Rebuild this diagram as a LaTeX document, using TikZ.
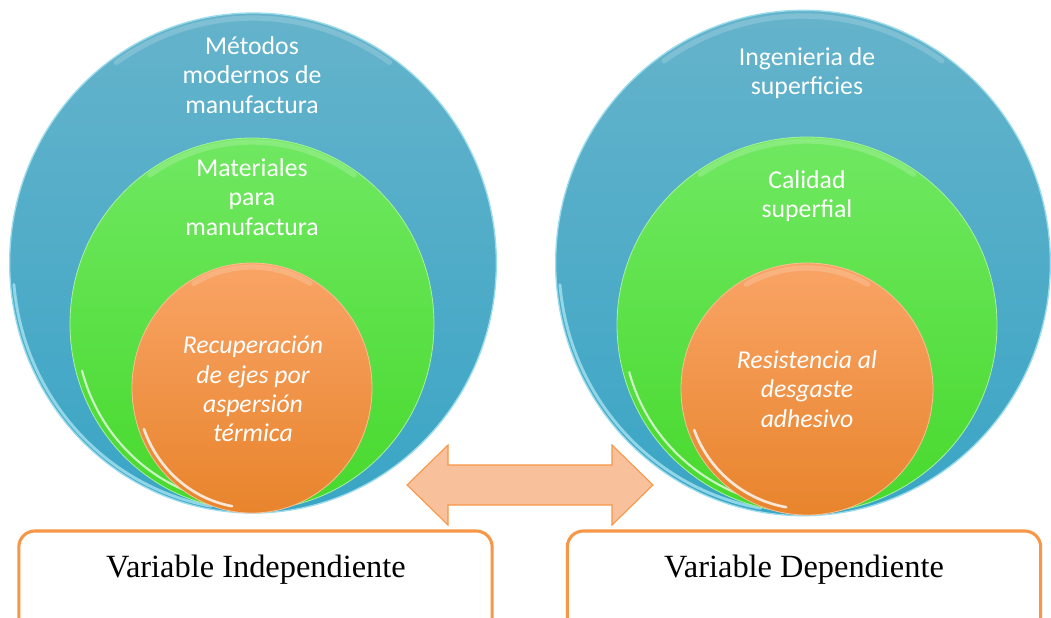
\documentclass[tikz,border=0pt]{standalone}
\usepackage{fontspec}
\setmainfont{Liberation Serif}
\newfontfamily\calfont{Carlito}
\usetikzlibrary{shapes.geometric}
\definecolor{bluetop}{HTML}{65B3CB}
\definecolor{bluebot}{HTML}{3AA5C5}
\definecolor{bluerim}{HTML}{9ADCEC}
\definecolor{greentop}{HTML}{70E862}
\definecolor{greenbot}{HTML}{47D92C}
\definecolor{orangetop}{HTML}{F9A466}
\definecolor{orangebot}{HTML}{E8842C}
\definecolor{boxline}{HTML}{F79646}
\definecolor{arrfill}{HTML}{F9C09C}
\tikzset{
  ringbase/.style={ellipse, inner sep=0pt, outer sep=0pt},
  bluering/.style={ringbase, top color=bluetop, bottom color=bluebot, draw=bluerim, line width=1pt},
  greenring/.style={ringbase, top color=greentop, bottom color=greenbot, draw=greentop!60!white, line width=0.6pt},
  orangering/.style={ringbase, top color=orangetop, bottom color=orangebot, draw=orangetop!70!white, line width=0.6pt},
  ringtext/.style={text=white, align=center, font=\calfont\fontsize{19.3}{22}\selectfont},
  ringitalic/.style={ringtext, font=\calfont\itshape\fontsize{19.3}{22}\selectfont},
  varbox/.style={draw=boxline, line width=2.3pt, rounded corners=12pt, fill=white, inner sep=0pt},
  varlabel/.style={text=black, font=\fontsize{24.3}{27}\selectfont, inner sep=0pt},
  gloss/.style={white, line width=1.6pt, opacity=0.7, line cap=round},
  topgloss/.style={white, line width=4pt, opacity=0.18, line cap=round},
  arrowshape/.style={fill=arrfill, draw=boxline, line width=0.8pt, line join=miter}
}
\begin{document}
\begin{tikzpicture}[x=0.75pt,y=-0.75pt]
\clip (0,0) rectangle (1051,618);
\fill[white] (0,0) rectangle (1051,618);

% left nested circles
\node[bluering, minimum width=365pt, minimum height=375pt] (lb) at (253,263) {};
\draw[gloss, bluerim, opacity=0.9, line width=2.2pt] (253,263) ++(100:240 and 247) arc[start angle=100, end angle=175, x radius=240, y radius=247];
\draw[topgloss] (253,263) ++(235:238 and 245) arc[start angle=235, end angle=305, x radius=238, y radius=245];
\node[greenring, minimum width=273pt, minimum height=279pt] (lg) at (252,324) {};
\draw[gloss] (252,324) ++(95:176 and 180) arc[start angle=95, end angle=165, x radius=176, y radius=180];
\draw[topgloss] (252,324) ++(235:178 and 182) arc[start angle=235, end angle=305, x radius=178, y radius=182];
\node[orangering, minimum width=180pt, minimum height=187.5pt] (lo) at (252,388) {};
\draw[gloss, line width=2pt, opacity=0.8] (252,388) ++(100:115 and 120) arc[start angle=100, end angle=160, x radius=115, y radius=120];
\draw[topgloss] (252,388) ++(240:116 and 121) arc[start angle=240, end angle=300, x radius=116, y radius=121];

\node[ringtext] (lbt) at (252,75) {Métodos\\modernos de\\manufactura};
\node[ringtext] (lgt) at (252,197) {Materiales\\para\\manufactura};
\node[ringitalic] (lot) at (253,389) {Recuperación\\de ejes por\\aspersión\\térmica};

% right nested circles
\node[bluering, minimum width=371pt, minimum height=379pt] (rb) at (803,263) {};
\draw[gloss, bluerim, opacity=0.9, line width=2.2pt] (803,263) ++(100:244 and 249) arc[start angle=100, end angle=175, x radius=244, y radius=249];
\draw[topgloss] (803,263) ++(235:242 and 247) arc[start angle=235, end angle=305, x radius=242, y radius=247];
\node[greenring, minimum width=285pt, minimum height=282pt] (rg) at (807,325) {};
\draw[gloss] (807,325) ++(95:184 and 182) arc[start angle=95, end angle=165, x radius=184, y radius=182];
\draw[topgloss] (807,325) ++(235:186 and 184) arc[start angle=235, end angle=305, x radius=186, y radius=184];
\node[orangering, minimum width=189pt, minimum height=189pt] (ro) at (807,389) {};
\draw[gloss, line width=2pt, opacity=0.8] (807,389) ++(100:120 and 120) arc[start angle=100, end angle=160, x radius=120, y radius=120];
\draw[topgloss] (807,389) ++(240:121 and 121) arc[start angle=240, end angle=300, x radius=121, y radius=121];

\node[ringtext] (rbt) at (807,73) {Ingenieria de\\superficies};
\node[ringtext] (rgt) at (807,196) {Calidad\\superfial};
\node[ringitalic] (rot) at (807,389) {Resistencia al\\desgaste\\adhesivo};

% double arrow
\draw[arrowshape] (407,485) -- (448,445) -- (448,465) -- (612,465) -- (612,445)
  -- (653,485) -- (612,525) -- (612,505) -- (448,505) -- (448,525) -- cycle;

% variable boxes
\node[varbox, minimum width=355pt, minimum height=90pt] (boxL) at (255.5,591) {};
\node[varlabel] (labL) at (256,570) {Variable Independiente};
\node[varbox, minimum width=355pt, minimum height=90pt] (boxR) at (804,591) {};
\node[varlabel] (labR) at (804,570) {Variable Dependiente};
\end{tikzpicture}
\end{document}
